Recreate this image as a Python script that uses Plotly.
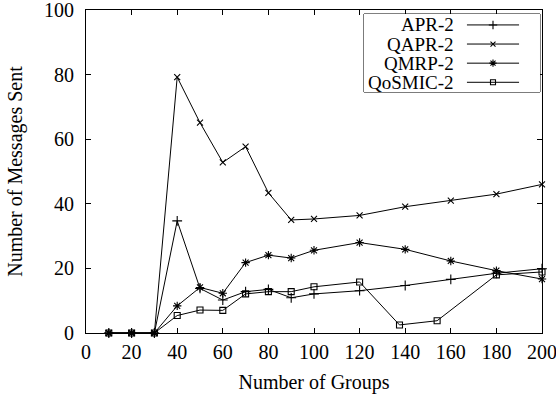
import plotly.graph_objects as go

# Number of groups for each measurement
groups = [10, 20, 30, 40, 50, 60, 70, 80, 90, 100, 120, 140, 160, 180, 200]
groups_qosmic = [10, 20, 30, 40, 50, 60, 70, 80, 90, 100, 120, 137.5, 154, 180, 200]

apr2 = [0, 0, 0, 34.7, 13.8, 10.2, 12.8, 13.5, 10.9, 12.1, 13.1, 14.7, 16.6, 18.5, 19.9]
qapr2 = [0, 0, 0, 79.2, 65.1, 52.8, 57.7, 43.4, 35.0, 35.3, 36.4, 39.1, 41.0, 43.0, 46.0]
qmrp2 = [0, 0, 0, 8.4, 14.1, 12.3, 21.8, 24.1, 23.2, 25.6, 28.0, 25.9, 22.3, 19.3, 16.7]
qosmic2 = [0, 0, 0, 5.4, 7.1, 7.0, 12.1, 12.8, 12.8, 14.3, 15.8, 2.5, 3.8, 18.0, 18.9]

x_ticks = list(range(0, 201, 20))
y_ticks = list(range(0, 101, 20))

FONT = "Liberation Serif"
FS = 20

series = [
    ("APR-2", groups, apr2, "cross-thin-open", 7),
    ("QAPR-2", groups, qapr2, "x-thin-open", 6),
    ("QMRP-2", groups, qmrp2, "asterisk-open", 7),
    ("QoSMIC-2", groups_qosmic, qosmic2, "square-open", 6),
]

fig = go.Figure()
for name, xs, ys, sym, sz in series:
    fig.add_trace(go.Scatter(
        x=xs, y=ys, mode="lines+markers", name=name, showlegend=False,
        line=dict(color="black", width=1),
        marker=dict(symbol=sym, size=sz, color="black",
                    line=dict(color="black", width=1.1)),
        cliponaxis=False,
    ))

# Key box in the upper-right corner: text on the left, line sample on the right
box_x0, box_x1 = 0.6096, 0.9956
box_y0, box_y1 = 0.746, 0.9876
row_y = [0.86, 0.615, 0.37, 0.125]
for (name, _, _, sym, sz), ry in zip(series, row_y):
    fig.add_trace(go.Scatter(
        x=[0.585, 0.733, 0.881], y=[ry, ry, ry], xaxis="x2", yaxis="y2",
        mode="lines", showlegend=False, hoverinfo="skip",
        line=dict(color="black", width=1),
    ))
    fig.add_trace(go.Scatter(
        x=[0.733], y=[ry], xaxis="x2", yaxis="y2",
        mode="markers", showlegend=False, hoverinfo="skip",
        marker=dict(symbol=sym, size=sz - 1, color="black",
                    line=dict(color="black", width=1.1)),
    ))
    fig.add_annotation(
        x=0.52, y=ry, xref="x2", yref="y2", text=name, showarrow=False,
        xanchor="right", yanchor="middle",
        font=dict(family=FONT, size=19, color="black"),
    )

fig.add_shape(type="rect", xref="paper", yref="paper",
              x0=box_x0, x1=box_x1, y0=box_y0, y1=box_y1,
              line=dict(color="black", width=1), fillcolor="white", layer="below")

axis_common = dict(
    showline=True, linecolor="black", linewidth=1, mirror="ticks",
    ticks="inside", ticklen=5, tickcolor="black", tickwidth=1,
    showgrid=False, zeroline=False, automargin=False,
    ticklabeloverflow="allow",
    tickfont=dict(family=FONT, size=FS, color="black"),
)

fig.update_layout(
    width=556, height=397,
    margin=dict(l=86, r=14, t=10, b=64),
    paper_bgcolor="white", plot_bgcolor="white",
    font=dict(family=FONT, size=FS, color="black"),
    xaxis=dict(range=[0, 200], tickvals=x_ticks, ticktext=[str(v) for v in x_ticks],
               ticklabelstandoff=1,
               title=dict(text="Number of Groups", font=dict(family=FONT, size=FS), standoff=12),
               **axis_common),
    yaxis=dict(range=[0, 100], tickvals=y_ticks, ticktext=[str(v) for v in y_ticks],
               ticklabelstandoff=7,
               title=dict(text="Number of Messages Sent", font=dict(family=FONT, size=FS), standoff=16),
               **axis_common),
    xaxis2=dict(domain=[box_x0, box_x1], range=[0, 1], visible=False, anchor="y2"),
    yaxis2=dict(domain=[box_y0, box_y1], range=[0, 1], visible=False, anchor="x2"),
)

fig.write_html("out.html")
